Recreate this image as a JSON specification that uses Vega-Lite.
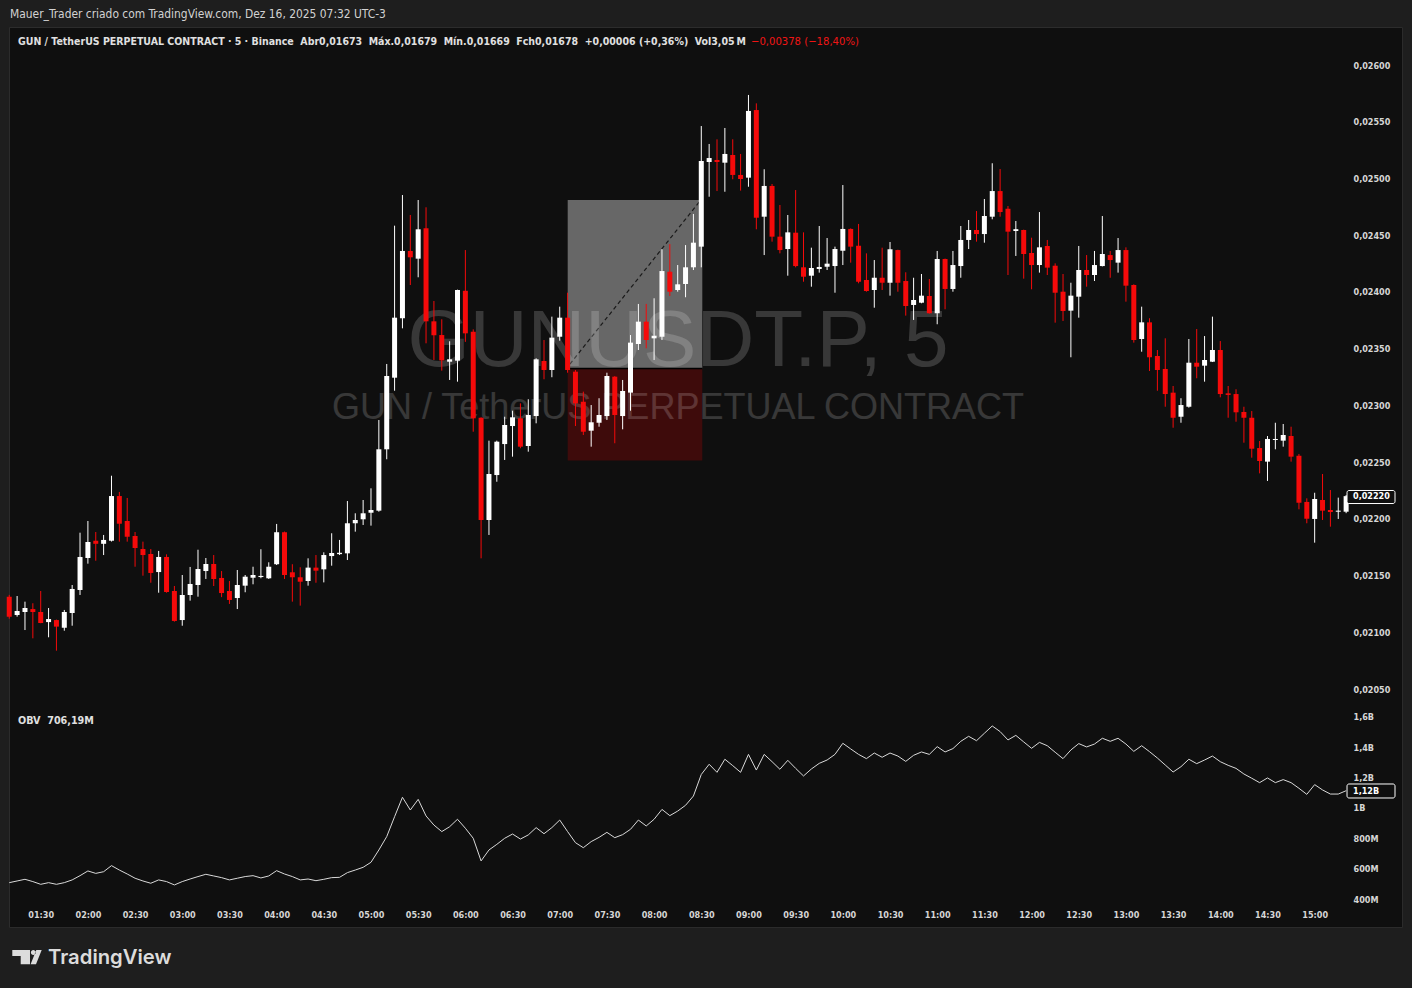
{
"$schema": "https://vega.github.io/schema/vega-lite/v6.json",
"width": 1412, "height": 988,
"autosize": {"type": "none"},
"padding": 0,
"background": "#1e1e1e",
"config": {"view": {"stroke": null}, "axis": {"grid": false, "domain": false, "ticks": false, "tickSize": 0, "zindex": 2}, "scale": {"continuousPadding": 0}},
"datasets": {"c": [
{"t":"2025-12-16T01:10Z","o":0.021314,"h":0.02133,"l":0.02112,"c":0.021138,"v":508},
{"t":"2025-12-16T01:15Z","o":0.021153,"h":0.02132,"l":0.021138,"c":0.021188,"v":519},
{"t":"2025-12-16T01:20Z","o":0.021179,"h":0.02127,"l":0.02102,"c":0.021214,"v":530},
{"t":"2025-12-16T01:25Z","o":0.021205,"h":0.021256,"l":0.020947,"c":0.021179,"v":515},
{"t":"2025-12-16T01:30Z","o":0.021179,"h":0.021364,"l":0.02108,"c":0.021082,"v":497},
{"t":"2025-12-16T01:35Z","o":0.02109,"h":0.021214,"l":0.020956,"c":0.021117,"v":508},
{"t":"2025-12-16T01:40Z","o":0.021108,"h":0.021112,"l":0.020838,"c":0.02105,"v":497},
{"t":"2025-12-16T01:45Z","o":0.021041,"h":0.021197,"l":0.021014,"c":0.021179,"v":508},
{"t":"2025-12-16T01:50Z","o":0.02117,"h":0.021417,"l":0.021058,"c":0.021382,"v":526},
{"t":"2025-12-16T01:55Z","o":0.021373,"h":0.021878,"l":0.021329,"c":0.021664,"v":554},
{"t":"2025-12-16T02:00Z","o":0.021655,"h":0.021981,"l":0.021605,"c":0.021796,"v":585},
{"t":"2025-12-16T02:05Z","o":0.021807,"h":0.021884,"l":0.021631,"c":0.02178,"v":569},
{"t":"2025-12-16T02:10Z","o":0.02178,"h":0.021858,"l":0.021681,"c":0.021814,"v":580},
{"t":"2025-12-16T02:15Z","o":0.021807,"h":0.02238,"l":0.0218,"c":0.022201,"v":620},
{"t":"2025-12-16T02:20Z","o":0.022201,"h":0.022237,"l":0.021799,"c":0.021957,"v":591},
{"t":"2025-12-16T02:25Z","o":0.021981,"h":0.022184,"l":0.021799,"c":0.021843,"v":565},
{"t":"2025-12-16T02:30Z","o":0.021849,"h":0.021884,"l":0.021578,"c":0.021743,"v":537},
{"t":"2025-12-16T02:35Z","o":0.021734,"h":0.021799,"l":0.021499,"c":0.021681,"v":519},
{"t":"2025-12-16T02:40Z","o":0.02169,"h":0.021734,"l":0.021437,"c":0.021523,"v":504},
{"t":"2025-12-16T02:45Z","o":0.021531,"h":0.021717,"l":0.021349,"c":0.021664,"v":526},
{"t":"2025-12-16T02:50Z","o":0.021664,"h":0.021687,"l":0.021349,"c":0.021355,"v":515},
{"t":"2025-12-16T02:55Z","o":0.021364,"h":0.021408,"l":0.021094,"c":0.0211,"v":493},
{"t":"2025-12-16T03:00Z","o":0.021108,"h":0.021505,"l":0.021058,"c":0.021329,"v":515},
{"t":"2025-12-16T03:05Z","o":0.021329,"h":0.021576,"l":0.021279,"c":0.021426,"v":532},
{"t":"2025-12-16T03:10Z","o":0.021417,"h":0.021728,"l":0.021314,"c":0.021558,"v":548},
{"t":"2025-12-16T03:15Z","o":0.02154,"h":0.021655,"l":0.02147,"c":0.021602,"v":563},
{"t":"2025-12-16T03:20Z","o":0.021602,"h":0.021681,"l":0.021408,"c":0.02147,"v":552},
{"t":"2025-12-16T03:25Z","o":0.021479,"h":0.02154,"l":0.02131,"c":0.021346,"v":541},
{"t":"2025-12-16T03:30Z","o":0.021364,"h":0.021452,"l":0.02125,"c":0.021285,"v":526},
{"t":"2025-12-16T03:35Z","o":0.021302,"h":0.021549,"l":0.021205,"c":0.021417,"v":537},
{"t":"2025-12-16T03:40Z","o":0.021411,"h":0.021505,"l":0.021353,"c":0.02149,"v":548},
{"t":"2025-12-16T03:45Z","o":0.021481,"h":0.021578,"l":0.021423,"c":0.021505,"v":554},
{"t":"2025-12-16T03:50Z","o":0.021487,"h":0.021732,"l":0.021476,"c":0.021497,"v":539},
{"t":"2025-12-16T03:55Z","o":0.021476,"h":0.021617,"l":0.02147,"c":0.021578,"v":552},
{"t":"2025-12-16T04:00Z","o":0.0216,"h":0.021955,"l":0.021593,"c":0.021882,"v":587},
{"t":"2025-12-16T04:05Z","o":0.021882,"h":0.021888,"l":0.02147,"c":0.021505,"v":565},
{"t":"2025-12-16T04:10Z","o":0.021529,"h":0.0216,"l":0.02127,"c":0.021485,"v":548},
{"t":"2025-12-16T04:15Z","o":0.021485,"h":0.021573,"l":0.021235,"c":0.021446,"v":526},
{"t":"2025-12-16T04:20Z","o":0.021452,"h":0.021652,"l":0.021411,"c":0.02157,"v":532},
{"t":"2025-12-16T04:25Z","o":0.02157,"h":0.021681,"l":0.021437,"c":0.021543,"v":521},
{"t":"2025-12-16T04:30Z","o":0.021555,"h":0.021705,"l":0.02144,"c":0.021681,"v":530},
{"t":"2025-12-16T04:35Z","o":0.021672,"h":0.021873,"l":0.021587,"c":0.021699,"v":541},
{"t":"2025-12-16T04:40Z","o":0.021689,"h":0.021814,"l":0.021681,"c":0.021701,"v":543},
{"t":"2025-12-16T04:45Z","o":0.021696,"h":0.022157,"l":0.021637,"c":0.021961,"v":574},
{"t":"2025-12-16T04:50Z","o":0.021961,"h":0.022049,"l":0.021887,"c":0.02199,"v":591},
{"t":"2025-12-16T04:55Z","o":0.021996,"h":0.022166,"l":0.021946,"c":0.022049,"v":609},
{"t":"2025-12-16T05:00Z","o":0.022054,"h":0.022269,"l":0.02194,"c":0.022078,"v":642},
{"t":"2025-12-16T05:05Z","o":0.022072,"h":0.022871,"l":0.022063,"c":0.022613,"v":723},
{"t":"2025-12-16T05:10Z","o":0.022613,"h":0.023365,"l":0.022525,"c":0.023259,"v":811},
{"t":"2025-12-16T05:15Z","o":0.023244,"h":0.024584,"l":0.023129,"c":0.023773,"v":942},
{"t":"2025-12-16T05:20Z","o":0.023768,"h":0.024854,"l":0.023679,"c":0.024361,"v":1070},
{"t":"2025-12-16T05:25Z","o":0.024361,"h":0.024678,"l":0.024061,"c":0.024305,"v":986},
{"t":"2025-12-16T05:30Z","o":0.024293,"h":0.02481,"l":0.024129,"c":0.024552,"v":1056},
{"t":"2025-12-16T05:35Z","o":0.024561,"h":0.024746,"l":0.023547,"c":0.023741,"v":947},
{"t":"2025-12-16T05:40Z","o":0.023741,"h":0.02392,"l":0.0234,"c":0.023618,"v":887},
{"t":"2025-12-16T05:45Z","o":0.02362,"h":0.023759,"l":0.023306,"c":0.023397,"v":844},
{"t":"2025-12-16T05:50Z","o":0.023385,"h":0.023565,"l":0.023224,"c":0.023406,"v":876},
{"t":"2025-12-16T05:55Z","o":0.023394,"h":0.02402,"l":0.023209,"c":0.024017,"v":925},
{"t":"2025-12-16T06:00Z","o":0.02401,"h":0.024369,"l":0.02356,"c":0.023635,"v":866},
{"t":"2025-12-16T06:05Z","o":0.023649,"h":0.02367,"l":0.022768,"c":0.022886,"v":800},
{"t":"2025-12-16T06:10Z","o":0.022891,"h":0.022895,"l":0.021652,"c":0.02199,"v":651},
{"t":"2025-12-16T06:15Z","o":0.02199,"h":0.022689,"l":0.021858,"c":0.022395,"v":723},
{"t":"2025-12-16T06:20Z","o":0.022386,"h":0.022689,"l":0.022327,"c":0.02268,"v":760},
{"t":"2025-12-16T06:25Z","o":0.022659,"h":0.0229,"l":0.022519,"c":0.022827,"v":800},
{"t":"2025-12-16T06:30Z","o":0.022818,"h":0.022953,"l":0.022548,"c":0.022895,"v":828},
{"t":"2025-12-16T06:35Z","o":0.022886,"h":0.023018,"l":0.022622,"c":0.022636,"v":795},
{"t":"2025-12-16T06:40Z","o":0.022642,"h":0.023054,"l":0.022592,"c":0.022915,"v":822},
{"t":"2025-12-16T06:45Z","o":0.022906,"h":0.023415,"l":0.022842,"c":0.023406,"v":870},
{"t":"2025-12-16T06:50Z","o":0.023391,"h":0.023576,"l":0.02323,"c":0.023312,"v":830},
{"t":"2025-12-16T06:55Z","o":0.023312,"h":0.023782,"l":0.023248,"c":0.023597,"v":870},
{"t":"2025-12-16T07:00Z","o":0.023605,"h":0.02387,"l":0.02357,"c":0.023773,"v":920},
{"t":"2025-12-16T07:05Z","o":0.023773,"h":0.023993,"l":0.023288,"c":0.023312,"v":844},
{"t":"2025-12-16T07:10Z","o":0.023297,"h":0.023312,"l":0.022818,"c":0.023018,"v":771},
{"t":"2025-12-16T07:15Z","o":0.023032,"h":0.023121,"l":0.022739,"c":0.022768,"v":738},
{"t":"2025-12-16T07:20Z","o":0.022777,"h":0.023003,"l":0.022636,"c":0.022851,"v":778},
{"t":"2025-12-16T07:25Z","o":0.022847,"h":0.023063,"l":0.022812,"c":0.022915,"v":806},
{"t":"2025-12-16T07:30Z","o":0.022906,"h":0.023288,"l":0.022871,"c":0.023259,"v":839},
{"t":"2025-12-16T07:35Z","o":0.023253,"h":0.023258,"l":0.022666,"c":0.022915,"v":804},
{"t":"2025-12-16T07:40Z","o":0.022906,"h":0.023224,"l":0.022789,"c":0.023127,"v":824},
{"t":"2025-12-16T07:45Z","o":0.023112,"h":0.02362,"l":0.022953,"c":0.023553,"v":859},
{"t":"2025-12-16T07:50Z","o":0.023541,"h":0.023894,"l":0.023488,"c":0.023738,"v":920},
{"t":"2025-12-16T07:55Z","o":0.023738,"h":0.023894,"l":0.023503,"c":0.023576,"v":881},
{"t":"2025-12-16T08:00Z","o":0.023591,"h":0.023944,"l":0.0234,"c":0.023614,"v":925},
{"t":"2025-12-16T08:05Z","o":0.023605,"h":0.024376,"l":0.023576,"c":0.024184,"v":990},
{"t":"2025-12-16T08:10Z","o":0.024178,"h":0.024422,"l":0.023964,"c":0.024002,"v":949},
{"t":"2025-12-16T08:15Z","o":0.024017,"h":0.024237,"l":0.024002,"c":0.024067,"v":979},
{"t":"2025-12-16T08:20Z","o":0.02407,"h":0.024413,"l":0.023953,"c":0.024217,"v":1017},
{"t":"2025-12-16T08:25Z","o":0.024217,"h":0.024687,"l":0.024193,"c":0.024434,"v":1078},
{"t":"2025-12-16T08:30Z","o":0.024399,"h":0.025462,"l":0.024217,"c":0.025154,"v":1220},
{"t":"2025-12-16T08:35Z","o":0.025145,"h":0.025304,"l":0.024839,"c":0.02518,"v":1287},
{"t":"2025-12-16T08:40Z","o":0.025163,"h":0.025345,"l":0.024889,"c":0.025145,"v":1234},
{"t":"2025-12-16T08:45Z","o":0.025139,"h":0.025445,"l":0.024883,"c":0.025216,"v":1320},
{"t":"2025-12-16T08:50Z","o":0.025207,"h":0.025345,"l":0.024993,"c":0.025031,"v":1278},
{"t":"2025-12-16T08:55Z","o":0.025031,"h":0.025216,"l":0.024893,"c":0.024995,"v":1234},
{"t":"2025-12-16T09:00Z","o":0.025007,"h":0.025736,"l":0.024927,"c":0.025595,"v":1352},
{"t":"2025-12-16T09:05Z","o":0.025603,"h":0.025662,"l":0.024552,"c":0.024654,"v":1249},
{"t":"2025-12-16T09:10Z","o":0.024663,"h":0.025081,"l":0.024325,"c":0.024934,"v":1352},
{"t":"2025-12-16T09:15Z","o":0.024934,"h":0.024951,"l":0.024443,"c":0.024487,"v":1304},
{"t":"2025-12-16T09:20Z","o":0.024487,"h":0.024766,"l":0.02434,"c":0.024369,"v":1254},
{"t":"2025-12-16T09:25Z","o":0.024378,"h":0.024678,"l":0.024143,"c":0.024525,"v":1313},
{"t":"2025-12-16T09:30Z","o":0.024522,"h":0.024898,"l":0.024217,"c":0.024228,"v":1260},
{"t":"2025-12-16T09:35Z","o":0.024217,"h":0.024525,"l":0.02409,"c":0.024134,"v":1210},
{"t":"2025-12-16T09:40Z","o":0.024143,"h":0.02439,"l":0.024046,"c":0.024211,"v":1256},
{"t":"2025-12-16T09:45Z","o":0.024202,"h":0.024581,"l":0.02417,"c":0.02422,"v":1293},
{"t":"2025-12-16T09:50Z","o":0.024222,"h":0.024475,"l":0.024193,"c":0.024249,"v":1315},
{"t":"2025-12-16T09:55Z","o":0.024228,"h":0.024399,"l":0.023993,"c":0.024378,"v":1352},
{"t":"2025-12-16T10:00Z","o":0.024363,"h":0.024942,"l":0.024237,"c":0.024555,"v":1425},
{"t":"2025-12-16T10:05Z","o":0.024555,"h":0.02456,"l":0.024258,"c":0.024399,"v":1388},
{"t":"2025-12-16T10:10Z","o":0.024407,"h":0.024599,"l":0.024076,"c":0.02409,"v":1352},
{"t":"2025-12-16T10:15Z","o":0.024105,"h":0.02434,"l":0.024002,"c":0.024008,"v":1324},
{"t":"2025-12-16T10:20Z","o":0.024017,"h":0.024281,"l":0.023861,"c":0.024125,"v":1361},
{"t":"2025-12-16T10:25Z","o":0.024125,"h":0.02439,"l":0.024017,"c":0.024081,"v":1333},
{"t":"2025-12-16T10:30Z","o":0.024081,"h":0.02444,"l":0.023967,"c":0.024376,"v":1361},
{"t":"2025-12-16T10:35Z","o":0.024369,"h":0.024372,"l":0.024002,"c":0.024081,"v":1341},
{"t":"2025-12-16T10:40Z","o":0.024096,"h":0.024173,"l":0.023791,"c":0.023876,"v":1306},
{"t":"2025-12-16T10:45Z","o":0.023885,"h":0.024125,"l":0.023753,"c":0.023929,"v":1346},
{"t":"2025-12-16T10:50Z","o":0.023905,"h":0.024158,"l":0.0239,"c":0.023967,"v":1368},
{"t":"2025-12-16T10:55Z","o":0.023964,"h":0.024114,"l":0.023809,"c":0.023812,"v":1352},
{"t":"2025-12-16T11:00Z","o":0.023812,"h":0.024361,"l":0.023715,"c":0.02429,"v":1403},
{"t":"2025-12-16T11:05Z","o":0.02429,"h":0.024294,"l":0.023847,"c":0.024026,"v":1368},
{"t":"2025-12-16T11:10Z","o":0.024026,"h":0.024361,"l":0.024002,"c":0.024237,"v":1390},
{"t":"2025-12-16T11:15Z","o":0.024228,"h":0.024581,"l":0.024125,"c":0.024458,"v":1438},
{"t":"2025-12-16T11:20Z","o":0.024458,"h":0.024634,"l":0.024378,"c":0.024546,"v":1471},
{"t":"2025-12-16T11:25Z","o":0.024546,"h":0.024713,"l":0.024443,"c":0.02451,"v":1442},
{"t":"2025-12-16T11:30Z","o":0.02451,"h":0.024819,"l":0.024434,"c":0.024669,"v":1491},
{"t":"2025-12-16T11:35Z","o":0.024663,"h":0.025134,"l":0.02464,"c":0.024889,"v":1539},
{"t":"2025-12-16T11:40Z","o":0.024889,"h":0.025083,"l":0.024663,"c":0.024704,"v":1502},
{"t":"2025-12-16T11:45Z","o":0.024733,"h":0.024757,"l":0.024149,"c":0.024531,"v":1447},
{"t":"2025-12-16T11:50Z","o":0.024537,"h":0.024625,"l":0.024317,"c":0.024553,"v":1477},
{"t":"2025-12-16T11:55Z","o":0.024546,"h":0.024549,"l":0.024117,"c":0.024334,"v":1434},
{"t":"2025-12-16T12:00Z","o":0.024343,"h":0.024478,"l":0.024023,"c":0.024237,"v":1392},
{"t":"2025-12-16T12:05Z","o":0.024237,"h":0.024704,"l":0.02417,"c":0.024393,"v":1431},
{"t":"2025-12-16T12:10Z","o":0.024405,"h":0.024458,"l":0.024149,"c":0.024214,"v":1409},
{"t":"2025-12-16T12:15Z","o":0.024231,"h":0.024252,"l":0.023729,"c":0.023993,"v":1366},
{"t":"2025-12-16T12:20Z","o":0.024002,"h":0.024158,"l":0.023744,"c":0.023832,"v":1324},
{"t":"2025-12-16T12:25Z","o":0.023835,"h":0.024081,"l":0.023424,"c":0.023967,"v":1381},
{"t":"2025-12-16T12:30Z","o":0.023958,"h":0.024405,"l":0.023773,"c":0.024193,"v":1423},
{"t":"2025-12-16T12:35Z","o":0.024193,"h":0.024325,"l":0.024046,"c":0.024149,"v":1401},
{"t":"2025-12-16T12:40Z","o":0.024149,"h":0.024361,"l":0.024096,"c":0.024237,"v":1420},
{"t":"2025-12-16T12:45Z","o":0.024228,"h":0.024669,"l":0.024225,"c":0.024334,"v":1458},
{"t":"2025-12-16T12:50Z","o":0.024325,"h":0.024361,"l":0.024125,"c":0.024281,"v":1438},
{"t":"2025-12-16T12:55Z","o":0.024258,"h":0.024475,"l":0.02417,"c":0.024369,"v":1458},
{"t":"2025-12-16T13:00Z","o":0.024369,"h":0.024393,"l":0.023914,"c":0.024055,"v":1420},
{"t":"2025-12-16T13:05Z","o":0.024061,"h":0.024067,"l":0.023553,"c":0.023576,"v":1372},
{"t":"2025-12-16T13:10Z","o":0.023585,"h":0.02387,"l":0.023473,"c":0.023732,"v":1409},
{"t":"2025-12-16T13:15Z","o":0.023732,"h":0.023768,"l":0.023303,"c":0.023424,"v":1370},
{"t":"2025-12-16T13:20Z","o":0.023435,"h":0.023488,"l":0.023129,"c":0.023312,"v":1328},
{"t":"2025-12-16T13:25Z","o":0.023321,"h":0.023591,"l":0.022988,"c":0.0231,"v":1282},
{"t":"2025-12-16T13:30Z","o":0.023112,"h":0.023171,"l":0.022803,"c":0.022891,"v":1236},
{"t":"2025-12-16T13:35Z","o":0.0229,"h":0.023063,"l":0.022847,"c":0.023003,"v":1271},
{"t":"2025-12-16T13:40Z","o":0.022988,"h":0.023585,"l":0.02298,"c":0.023376,"v":1320},
{"t":"2025-12-16T13:45Z","o":0.023376,"h":0.023673,"l":0.023239,"c":0.023341,"v":1291},
{"t":"2025-12-16T13:50Z","o":0.02335,"h":0.023611,"l":0.023209,"c":0.0234,"v":1315},
{"t":"2025-12-16T13:55Z","o":0.023385,"h":0.023782,"l":0.023382,"c":0.023488,"v":1341},
{"t":"2025-12-16T14:00Z","o":0.023488,"h":0.023567,"l":0.023071,"c":0.0231,"v":1304},
{"t":"2025-12-16T14:05Z","o":0.023106,"h":0.023171,"l":0.022891,"c":0.023092,"v":1280},
{"t":"2025-12-16T14:10Z","o":0.0231,"h":0.023142,"l":0.022856,"c":0.022939,"v":1260},
{"t":"2025-12-16T14:15Z","o":0.022942,"h":0.022988,"l":0.022671,"c":0.022891,"v":1223},
{"t":"2025-12-16T14:20Z","o":0.022891,"h":0.02295,"l":0.022539,"c":0.022618,"v":1195},
{"t":"2025-12-16T14:25Z","o":0.022624,"h":0.022686,"l":0.022401,"c":0.02251,"v":1166},
{"t":"2025-12-16T14:30Z","o":0.022504,"h":0.02273,"l":0.022334,"c":0.022704,"v":1197},
{"t":"2025-12-16T14:35Z","o":0.022695,"h":0.022847,"l":0.022613,"c":0.022704,"v":1166},
{"t":"2025-12-16T14:40Z","o":0.022689,"h":0.022836,"l":0.022636,"c":0.022739,"v":1186},
{"t":"2025-12-16T14:45Z","o":0.02273,"h":0.022812,"l":0.022504,"c":0.022548,"v":1166},
{"t":"2025-12-16T14:50Z","o":0.022556,"h":0.022572,"l":0.022084,"c":0.022142,"v":1129},
{"t":"2025-12-16T14:55Z","o":0.022149,"h":0.022181,"l":0.021961,"c":0.022001,"v":1089},
{"t":"2025-12-16T15:00Z","o":0.021999,"h":0.02223,"l":0.02179,"c":0.022175,"v":1153},
{"t":"2025-12-16T15:05Z","o":0.022166,"h":0.022395,"l":0.02199,"c":0.022072,"v":1118},
{"t":"2025-12-16T15:10Z","o":0.022078,"h":0.022254,"l":0.021931,"c":0.02206,"v":1091},
{"t":"2025-12-16T15:15Z","o":0.022063,"h":0.022187,"l":0.021999,"c":0.022072,"v":1091},
{"t":"2025-12-16T15:20Z","o":0.022063,"h":0.02221,"l":0.02205,"c":0.0222,"v":1113}
]},
"layer": [
{"layer": [
 {"data": {"values": [{}]},
  "mark": {"type": "rect", "fill": "#0f0f0f", "stroke": "#2c2c2c", "strokeWidth": 1},
  "encoding": {
   "x": {"datum": 1765847410000, "type": "temporal",
     "scale": {"type": "utc", "domain": [1765847047000, 1765900913000], "nice": false, "padding": 0},
     "axis": {"title": null, "orient": "bottom", "offset": -74, "zindex": 3, "labelPadding": 0, "labelBaseline": "middle",
       "values": [1765848600000,1765850400000,1765852200000,1765854000000,1765855800000,1765857600000,1765859400000,1765861200000,1765863000000,1765864800000,1765866600000,1765868400000,1765870200000,1765872000000,1765873800000,1765875600000,1765877400000,1765879200000,1765881000000,1765882800000,1765884600000,1765886400000,1765888200000,1765890000000,1765891800000,1765893600000,1765895400000,1765897200000],
       "labelExpr": "utcFormat(datum.value, '%H:%M')",
       "labelColor": "#d6d6d6", "labelFont": "DejaVu Sans Condensed, sans-serif", "labelFontSize": 9, "labelFontWeight": "bold", "labelOverlap": false, "labelFlush": false}},
   "x2": {"datum": 1765900550000},
   "y": {"datum": 0.0263305, "type": "quantitative",
     "scale": {"domain": [0.017865, 0.0265729], "zero": false, "nice": false},
     "axis": {"title": null, "orient": "right", "offset": -59, "zindex": 3, "labelPadding": 0, "labelAlign": "left",
       "values": [0.0205, 0.021, 0.0215, 0.022, 0.0225, 0.023, 0.0235, 0.024, 0.0245, 0.025, 0.0255, 0.026],
       "labelExpr": "replace(format(datum.value, '.5f'), '.', ',')",
       "labelColor": "#d6d6d6", "labelFont": "DejaVu Sans Condensed, sans-serif", "labelFontSize": 9, "labelFontWeight": "bold"}},
   "y2": {"datum": 0.0183983}
  }},
 {"data": {"values": [{}]},
  "mark": {"type": "rect", "fill": "#676767"},
  "encoding": {
   "x": {"datum": 1765868704000, "type": "temporal"},
   "x2": {"datum": 1765873839000},
   "y": {"datum": 0.02481, "type": "quantitative"},
   "y2": {"datum": 0.023325}
  }},
 {"data": {"values": [{}]},
  "mark": {"type": "rect", "fill": "#3e0b0b"},
  "encoding": {
   "x": {"datum": 1765868704000, "type": "temporal"},
   "x2": {"datum": 1765873839000},
   "y": {"datum": 0.023325, "type": "quantitative"},
   "y2": {"datum": 0.022514}
  }},
 {"data": {"values": [{}]},
  "mark": {"type": "rule", "color": "#000000", "strokeWidth": 1.5},
  "encoding": {
   "x": {"datum": 1765868704000, "type": "temporal"},
   "x2": {"datum": 1765873839000},
   "y": {"datum": 0.023325, "type": "quantitative"}
  }},
 {"data": {"values": [{}]},
  "mark": {"type": "rule", "color": "#1a1a1a", "strokeWidth": 1.2, "strokeDash": [4, 3]},
  "encoding": {
   "x": {"datum": 1765868790000, "type": "temporal"},
   "x2": {"datum": 1765873752000},
   "y": {"datum": 0.0233647, "type": "quantitative"},
   "y2": {"datum": 0.0248014}
  }},
 {"data": {"values": [{}]},
  "mark": {"type": "text", "text": "GUNUSDT.P, 5", "font": "Liberation Sans, Arial, sans-serif", "fontSize": 80, "align": "center", "baseline": "middle", "color": "#ffffff", "opacity": 0.17},
  "encoding": {
   "x": {"datum": 1765872912000, "type": "temporal"},
   "y": {"datum": 0.0235586, "type": "quantitative"}
  }},
 {"data": {"values": [{}]},
  "mark": {"type": "text", "text": "GUN / TetherUS PERPETUAL CONTRACT", "font": "Liberation Sans, Arial, sans-serif", "fontSize": 36, "align": "center", "baseline": "middle", "color": "#ffffff", "opacity": 0.17},
  "encoding": {
   "x": {"datum": 1765872912000, "type": "temporal"},
   "y": {"datum": 0.0229769, "type": "quantitative"}
  }},
 {"data": {"name": "c"},
  "mark": {"type": "rule", "strokeWidth": 1},
  "encoding": {
   "x": {"field": "t", "type": "temporal", "title": null},
   "y": {"field": "l", "type": "quantitative", "title": null},
   "y2": {"field": "h"},
   "color": {"condition": {"test": "datum.c >= datum.o", "value": "#ffffff"}, "value": "#f50a0a"}
  }},
 {"data": {"name": "c"},
  "mark": {"type": "bar", "width": 5},
  "encoding": {
   "x": {"field": "t", "type": "temporal", "title": null},
   "y": {"field": "o", "type": "quantitative", "title": null},
   "y2": {"field": "c"},
   "color": {"condition": {"test": "datum.c >= datum.o", "value": "#ffffff"}, "value": "#f50a0a"}
  }},
 {"data": {"values": [{}]},
  "mark": {"type": "text", "text": "Mauer_Trader criado com TradingView.com, Dez 16, 2025 07:32 UTC-3", "font": "DejaVu Sans Condensed, sans-serif", "fontSize": 11.9, "align": "left", "baseline": "middle", "color": "#d2d2d2"},
  "encoding": {
   "x": {"datum": 1765847429000, "type": "temporal"},
   "y": {"datum": 0.0264495, "type": "quantitative"}
  }},
 {"data": {"values": [{}]},
  "mark": {"type": "text", "text": "GUN / TetherUS PERPETUAL CONTRACT · 5 · Binance\u00a0 Abr0,01673\u00a0 Máx.0,01679\u00a0 Mín.0,01669\u00a0 Fch0,01678\u00a0 +0,00006 (+0,36%)\u00a0 Vol3,05\u2009M", "font": "DejaVu Sans Condensed, sans-serif", "fontSize": 10.5, "fontWeight": "bold", "align": "left", "baseline": "middle", "color": "#e0e0e0"},
  "encoding": {
   "x": {"datum": 1765847734000, "type": "temporal"},
   "y": {"datum": 0.0262071, "type": "quantitative"}
  }},
 {"data": {"values": [{}]},
  "mark": {"type": "text", "text": "−0,00378 (−18,40%)", "font": "DejaVu Sans Condensed, sans-serif", "fontSize": 11.2, "align": "left", "baseline": "middle", "color": "#f01515"},
  "encoding": {
   "x": {"datum": 1765875696000, "type": "temporal"},
   "y": {"datum": 0.0262071, "type": "quantitative"}
  }},
 {"data": {"values": [{}]},
  "mark": {"type": "rect", "fill": "#0f0f0f", "stroke": "#ffffff", "strokeWidth": 1, "cornerRadius": 2},
  "encoding": {
   "x": {"datum": 1765898434000, "type": "temporal"},
   "x2": {"datum": 1765900265000},
   "y": {"datum": 0.0222498, "type": "quantitative"},
   "y2": {"datum": 0.022135}
  }},
 {"data": {"values": [{}]},
  "mark": {"type": "text", "text": "0,02220", "font": "DejaVu Sans Condensed, sans-serif", "fontSize": 9, "fontWeight": "bold", "align": "left", "baseline": "middle", "color": "#ffffff"},
  "encoding": {
   "x": {"datum": 1765898662000, "type": "temporal"},
   "y": {"datum": 0.0222, "type": "quantitative"}
  }},
 {"data": {"values": [{}]},
  "mark": {"type": "point", "shape": "M-0.98,-0.47 L0.2,-0.47 L0.2,0.49 L-0.42,0.49 L-0.42,-0.07 L-0.98,-0.07 Z M0.26,-0.3 A0.16,0.16 0 1,0 0.58,-0.3 A0.16,0.16 0 1,0 0.26,-0.3 Z M0.62,-0.47 L0.98,-0.47 L0.6,0.49 L0.24,0.49 Z", "size": 900, "filled": true, "fill": "#dcdcdc", "opacity": 1},
  "encoding": {
   "x": {"datum": 1765848077000, "type": "temporal"},
   "y": {"datum": 0.0181382, "type": "quantitative"}
  }},
 {"data": {"values": [{}]},
  "mark": {"type": "text", "text": "TradingView", "font": "Inter, Lato, sans-serif", "fontSize": 20.3, "fontWeight": 600, "align": "left", "baseline": "middle", "color": "#dcdcdc"},
  "encoding": {
   "x": {"datum": 1765848878000, "type": "temporal"},
   "y": {"datum": 0.0181294, "type": "quantitative"}
  }}
]},
{"layer": [
 {"data": {"name": "c"},
  "mark": {"type": "line", "color": "#d9d9d9", "strokeWidth": 1},
  "encoding": {
   "x": {"field": "t", "type": "temporal", "title": null},
   "y": {"field": "v", "type": "quantitative",
     "scale": {"domain": [-185.2, 6315.9], "zero": false, "nice": false},
     "axis": {"title": null, "orient": "right", "offset": -59, "zindex": 3, "labelPadding": 0, "labelAlign": "left",
       "values": [400, 600, 800, 1000, 1200, 1400, 1600],
       "labelExpr": "datum.value >= 1000 ? replace(format(datum.value / 1000, '.1~f'), '.', ',') + 'B' : datum.value + 'M'",
       "labelColor": "#d6d6d6", "labelFont": "DejaVu Sans Condensed, sans-serif", "labelFontSize": 9, "labelFontWeight": "bold"}}
  }},
 {"data": {"values": [{}]},
  "mark": {"type": "text", "text": "OBV\u00a0 706,19M", "font": "DejaVu Sans Condensed, sans-serif", "fontSize": 10.7, "fontWeight": "bold", "align": "left", "baseline": "middle", "color": "#e0e0e0"},
  "encoding": {
   "x": {"datum": 1765847734000, "type": "temporal"},
   "y": {"datum": 1571.7, "type": "quantitative"}
  }},
 {"data": {"values": [{}]},
  "mark": {"type": "rect", "fill": "#0f0f0f", "stroke": "#ffffff", "strokeWidth": 1, "cornerRadius": 2},
  "encoding": {
   "x": {"datum": 1765898434000, "type": "temporal"},
   "x2": {"datum": 1765900265000},
   "y": {"datum": 1157.2, "type": "quantitative"},
   "y2": {"datum": 1065.1}
  }},
 {"data": {"values": [{}]},
  "mark": {"type": "text", "text": "1,12B", "font": "DejaVu Sans Condensed, sans-serif", "fontSize": 9, "fontWeight": "bold", "align": "left", "baseline": "middle", "color": "#ffffff"},
  "encoding": {
   "x": {"datum": 1765898662000, "type": "temporal"},
   "y": {"datum": 1111.1, "type": "quantitative"}
  }}
]}
],
"resolve": {"scale": {"y": "independent"}, "axis": {"y": "independent"}}
}
